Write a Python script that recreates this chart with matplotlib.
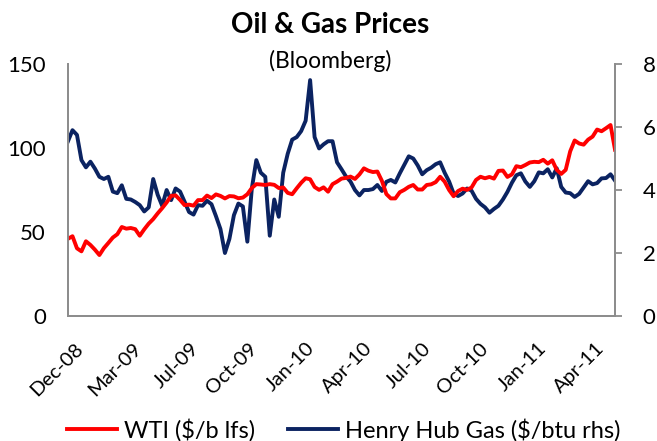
import numpy as np
import matplotlib
matplotlib.use('Agg')
import matplotlib.pyplot as plt
from matplotlib.transforms import ScaledTranslation

plt.rcParams['font.family'] = ['Lato', 'DejaVu Sans']

# values, roughly weekly, Dec-08 .. mid May-11
wti = [46, 47.5, 40.3, 38.5, 44.5, 42.3, 39.5, 36.3, 40.4, 43.5,
       46.7, 48.7, 53, 52, 52.4, 51.7, 47.8, 51.6, 55, 57.7,
       61.1, 64.2, 67.6, 71.5, 71.8, 69.1, 66, 66.3, 65.7, 69,
       69, 71.7, 70.2, 72.4, 71.5, 70, 71.4, 71.2, 70.1, 70.5,
       72.5, 76.2, 78.5, 78.3, 78, 78.5, 78.1, 76.2, 76.5, 73.3,
       72.5, 76, 79.3, 82, 81.4, 76.8, 75.1, 76.6, 74, 78.5,
       80, 81.8, 82.2, 83, 81.6, 84.3, 87.9, 86.5, 85.7, 86,
       80.5, 72.6, 70, 70, 73.7, 75.1, 76.9, 78, 75.3, 75.3,
       78, 78.4, 79.7, 82.9, 80, 75, 71.3, 74.4, 75.8, 75.1,
       76.5, 81, 82.9, 82, 82.8, 81.8, 86.4, 86.6, 82.8, 84.3,
       89.2, 88.6, 89.9, 91.4, 91.8, 91.6, 93, 90.7, 92.7, 87,
       84.6, 87, 98, 104.5, 102.7, 102, 105, 106.8, 111, 110,
       111.8, 113.7, 99]

gas = [5.55, 5.9, 5.75, 4.95, 4.72, 4.9, 4.68, 4.42, 4.35, 4.42,
       3.95, 3.9, 4.15, 3.72, 3.7, 3.62, 3.52, 3.32, 3.45, 4.35,
       3.85, 3.5, 4.0, 3.68, 4.05, 3.95, 3.63, 3.3, 3.22, 3.52,
       3.5, 3.66, 3.55, 3.17, 2.76, 2.0, 2.45, 3.2, 3.57, 3.48,
       2.36, 4.05, 4.95, 4.55, 4.42, 2.55, 3.7, 3.15, 4.55, 5.15,
       5.6, 5.68, 5.87, 6.2, 7.49, 5.68, 5.32, 5.45, 5.55, 5.55,
       4.88, 4.66, 4.43, 4.27, 4.0, 3.83, 4.0, 4.0, 4.03, 4.16,
       3.97, 4.26, 4.32, 4.24, 4.53, 4.8, 5.07, 5.0, 4.78, 4.5,
       4.63, 4.71, 4.82, 4.88, 4.55, 4.27, 3.89, 3.81, 3.89, 4.05,
       3.98, 3.72, 3.56, 3.45, 3.28, 3.4, 3.5, 3.7, 3.94, 4.23,
       4.47, 4.53, 4.27, 4.1, 4.28, 4.56, 4.53, 4.66, 4.4, 4.69,
       4.1, 3.92, 3.9, 3.78, 3.88, 4.08, 4.28, 4.18, 4.22, 4.37,
       4.38, 4.5, 4.3]

tick_labels = ['Dec-08', 'Mar-09', 'Jul-09', 'Oct-09', 'Jan-10',
               'Apr-10', 'Jul-10', 'Oct-10', 'Jan-11', 'Apr-11']

red = '#FF0000'
navy = '#0B2361'
grey = '#8C8C8C'

x = np.arange(len(wti))

fig = plt.figure(figsize=(6.57, 4.41), dpi=100)
ax = fig.add_axes([0.1035, 0.2834, 0.8326, 0.5714])
ax2 = ax.twinx()

l1, = ax.plot(x, wti, color=red, lw=2.8, solid_joinstyle='round')
l2, = ax2.plot(x, gas, color=navy, lw=2.8, solid_joinstyle='round')
ax.set_zorder(ax2.get_zorder() + 1)
ax.patch.set_visible(False)

ax.set_xlim(0, len(wti) - 1)
ax.set_ylim(0, 150)
ax2.set_ylim(0, 8)
ax.set_yticks([0, 50, 100, 150])
ax2.set_yticks([0, 2, 4, 6, 8])

# category-style axis: a label every ~13 points
ax.set_xticks(1.5 + 12.9 * np.arange(len(tick_labels)))
ax.set_xticklabels(tick_labels, rotation=45, ha='right', va='top',
                   rotation_mode='anchor')
shift = ScaledTranslation(-6 / 100, 0, fig.dpi_scale_trans)
for lbl in ax.get_xticklabels():
    lbl.set_transform(lbl.get_transform() + shift)

for a in (ax, ax2):
    for s in a.spines.values():
        s.set_color(grey)
        s.set_linewidth(1.3)
    a.spines['top'].set_visible(False)

ax.tick_params(axis='y', length=0, pad=16, labelsize=16)
ax.tick_params(axis='x', length=0, pad=17, labelsize=14.5)
ax2.tick_params(axis='y', length=5, width=1.3, color=grey, direction='out',
                pad=15, labelsize=16)

fig.text(0.502, 0.943, 'Oil & Gas Prices', ha='center', va='center',
         fontsize=20, fontweight='bold')
fig.text(0.502, 0.862, '(Bloomberg)', ha='center', va='center', fontsize=16.5)

fig.legend([l1, l2], ['WTI ($/b lfs)', 'Henry Hub Gas ($/btu rhs)'],
           loc='center', bbox_to_anchor=(0.523, 0.025), ncol=2,
           frameon=False, fontsize=17, handlelength=2.1,
           handletextpad=0.3, columnspacing=1.4, borderpad=0)

fig.savefig('out.png', dpi=100)
